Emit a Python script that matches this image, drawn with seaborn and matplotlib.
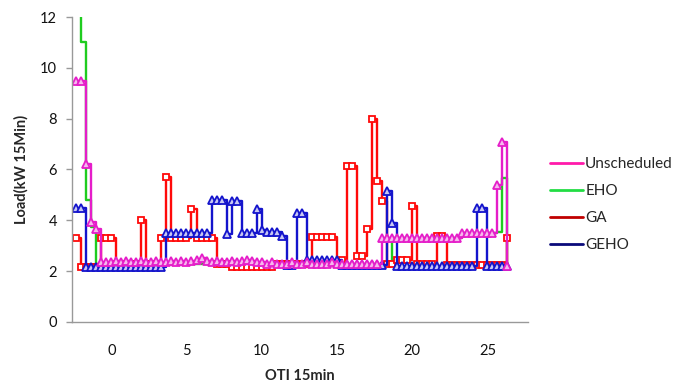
import numpy as np
import pandas as pd
import matplotlib
matplotlib.use("Agg")
import matplotlib.pyplot as plt
import seaborn as sns
from matplotlib.lines import Line2D

# 15-min sample index (OTI axis), one sample every 1/3 unit from -7/3 to 79/3
oti_index = list(range(-7, 80))

unscheduled = [
    9.5, 9.5, 6.2, 3.95, 3.65, 2.35,
    2.35, 2.35, 2.4, 2.35, 2.4, 2.35, 2.35, 2.4, 2.35, 2.35,
    2.4, 2.35, 2.35, 2.4, 2.35, 2.4, 2.35, 2.4, 2.45, 2.5,
    2.4, 2.35, 2.4, 2.35, 2.35, 2.4, 2.35, 2.4, 2.45, 2.4,
    2.35, 2.35, 2.3, 2.35, 2.3, 2.3, 2.3, 2.35, 2.3, 2.3,
    2.35, 2.3, 2.3, 2.3, 2.3, 2.35, 2.3, 2.3, 2.3, 2.3,
    2.3, 2.3, 2.3, 2.3, 2.3,
    3.3, 3.3, 3.3, 3.3, 3.3, 3.3, 3.3, 3.3, 3.3, 3.3, 3.3, 3.3, 3.3, 3.3, 3.3, 3.3,
    3.5, 3.5, 3.5, 3.5, 3.5, 3.5, 3.5,
    5.4, 7.1, 2.2,
]

eho = [
    12.5, 11.0, 4.8, 3.75,
    2.3, 2.3, 2.3, 2.3, 2.3, 2.3, 2.3, 2.3, 2.3, 2.3,
    2.3, 2.3, 2.3, 2.3, 2.3, 2.3, 2.3, 2.3, 2.3, 2.3,
    2.3, 2.3, 2.3, 2.3, 2.3, 2.3, 2.3, 2.3, 2.3, 2.3,
    2.3, 2.3, 2.3, 2.3, 2.3, 2.3, 2.3, 2.3, 2.3, 2.3,
    2.3, 2.3, 2.3, 2.3, 2.3, 2.3, 2.3, 2.3, 2.3, 2.3,
    2.3, 2.3, 2.3, 2.3, 2.3, 2.3, 2.3,
    2.25, 2.25,
    3.3, 3.3, 3.3, 3.3, 3.3, 3.3, 3.3, 3.3, 3.3, 3.3, 3.3,
    3.3, 3.3, 3.3, 3.5, 3.5, 3.5, 3.5, 3.5, 3.5, 3.5,
    3.55, 5.65, 2.2,
]

ga = [
    3.3, 2.15, 2.15, 2.15, 2.15, 3.3, 3.3, 3.3,
    2.3, 2.3, 2.3, 2.3, 2.3, 4.0, 2.3, 2.3, 2.3,
    3.3, 5.7, 3.3, 3.3, 3.3, 3.3, 4.45, 3.3, 3.3, 3.3, 3.3,
    2.3, 2.3, 2.3,
    2.15, 2.15, 2.15, 2.15, 2.15, 2.15, 2.15, 2.15, 2.15,
    2.3, 2.3, 2.3, 2.3, 2.3, 2.3, 2.3,
    3.35, 3.35, 3.35, 3.35, 3.35,
    2.3, 2.45, 6.15, 6.15, 2.6, 2.6, 3.65, 8.0, 5.55, 4.75,
    2.3, 2.3, 2.45, 2.45, 2.45, 4.55,
    2.3, 2.3, 2.3, 2.3, 3.4, 3.4,
    2.25, 2.25, 2.25, 2.25, 2.25, 2.25, 2.25, 2.25, 2.25, 2.25, 2.25, 2.25,
    3.3,
]

geho = [
    4.5, 4.5,
    2.15, 2.15, 2.15, 2.15, 2.15, 2.15, 2.15, 2.15,
    2.15, 2.15, 2.15, 2.15, 2.15, 2.15, 2.15, 2.15,
    3.5, 3.5, 3.5, 3.5, 3.5, 3.5, 3.5, 3.5, 3.5,
    4.8, 4.8, 4.8, 3.45, 4.75, 4.75, 3.5, 3.5, 3.5, 4.45,
    3.6, 3.55, 3.55, 3.55, 3.4, 2.25, 2.25, 4.3, 4.3,
    2.45, 2.45, 2.45, 2.45, 2.45, 2.45, 2.45,
    2.25, 2.25, 2.25, 2.25, 2.25, 2.25, 2.25, 2.25, 2.25,
    5.15, 3.9,
    2.2, 2.2, 2.2, 2.2, 2.2, 2.2, 2.2, 2.2, 2.2, 2.2, 2.2, 2.2, 2.2, 2.2, 2.2, 2.2,
    4.5, 4.5,
    2.2, 2.2, 2.2, 2.2, 2.2,
]

series_names = ["Unscheduled", "EHO", "GA", "GEHO"]

x_vals = np.array(oti_index) / 3.0

sns.set_style("white")
plt.rcParams["font.family"] = ["Lato", "DejaVu Sans"]

fig = plt.figure(figsize=(6.87, 3.91), dpi=100)
ax = fig.add_axes([0.105, 0.1765, 0.6636, 0.780])

plot_colors = {"Unscheduled": "#E51DC9", "EHO": "#1FCC1F", "GA": "#FF0A0A", "GEHO": "#1414CC"}
face_colors = {"Unscheduled": "#F6B8EE", "EHO": "white", "GA": "white", "GEHO": "#C8C8F4"}
legend_colors = {"Unscheduled": "#FF1AAA", "EHO": "#22DD44", "GA": "#C00000", "GEHO": "#0A0A7A"}
data = {"Unscheduled": unscheduled, "EHO": eho, "GA": ga, "GEHO": geho}
markers = {"Unscheduled": "^", "EHO": None, "GA": "s", "GEHO": "^"}

for name in ["EHO", "GA", "GEHO", "Unscheduled"]:
    c = plot_colors[name]
    kw = dict(linewidth=1.7, drawstyle="steps-post")
    if markers[name]:
        kw.update(marker=markers[name], markersize=5.5 if markers[name] == "^" else 5,
                  markerfacecolor=face_colors[name], markeredgecolor=c, markeredgewidth=1.3)
    sns.lineplot(x=x_vals, y=np.array(data[name]), ax=ax, color=c,
                 estimator=None, sort=False, legend=False, **kw)

ax.set_xlim(-2.6, 27.7)
ax.set_ylim(0, 12)
ax.set_xticks([0, 5, 10, 15, 20, 25])
ax.set_yticks([0, 2, 4, 6, 8, 10, 12])

for s in ["top", "right"]:
    ax.spines[s].set_visible(False)
for s in ["left", "bottom"]:
    ax.spines[s].set_color("#999999")
    ax.spines[s].set_linewidth(1.0)

ax.tick_params(axis="x", length=0, pad=16, labelsize=10.5, labelcolor="#111111")
ax.tick_params(axis="y", length=4, width=1, color="#999999", pad=7, labelsize=10.5,
               labelcolor="#111111", direction="out", left=True)

ax.set_xlabel("OTI 15min", fontsize=10.5, fontweight="bold", labelpad=8)
ax.set_ylabel("Load(kW 15Min)", fontsize=10.5, fontweight="bold", labelpad=8)

handles = [Line2D([0], [0], color=legend_colors[n], lw=2) for n in series_names]
fig.legend(handles, series_names, loc="center left", bbox_to_anchor=(0.8006, 0.477),
           frameon=False, fontsize=11, handlelength=2.15, handletextpad=0.15,
           labelspacing=0.85, borderpad=0, borderaxespad=0)

fig.savefig("out.png", dpi=100)
